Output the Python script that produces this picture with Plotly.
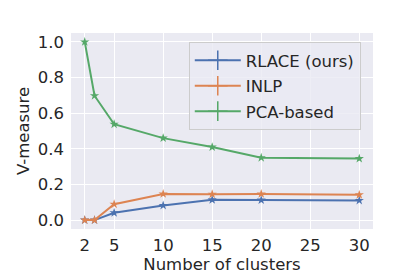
import plotly.graph_objects as go

clusters = [2, 3, 5, 10, 15, 20, 30]
rlace = [0.0, 0.0, 0.041, 0.082, 0.114, 0.112, 0.110]
inlp = [0.0, 0.0, 0.089, 0.147, 0.145, 0.147, 0.142]
pca = [1.0, 0.698, 0.538, 0.460, 0.410, 0.350, 0.345]

names = ["RLACE (ours)", "INLP", "PCA-based"]
colors = ["#4C72B0", "#DD8452", "#55A868"]
series = [rlace, inlp, pca]

x_ticks = [2, 5, 10, 15, 20, 25, 30]
y_ticks = [0.0, 0.2, 0.4, 0.6, 0.8, 1.0]

fig = go.Figure()
for name, col, vals in zip(names, colors, series):
    fig.add_trace(go.Scatter(
        x=clusters, y=vals, mode="lines+markers", name=name, showlegend=False,
        line=dict(color=col, width=2),
        marker=dict(symbol="star", size=7, color=col),
    ))
for i, (name, col) in enumerate(zip(names, colors)):
    fig.add_trace(go.Scatter(
        x=[None], y=[None], mode="lines+markers", name=name, legendgroup=str(i),
        line=dict(color=col, width=2),
        marker=dict(symbol="cross-thin", size=14, color=col, line=dict(color=col, width=1.5)),
    ))

font = dict(family="DejaVu Sans", size=16.5, color="#262626")
fig.update_layout(
    width=407, height=269,
    margin=dict(l=63, r=42, t=25, b=48),
    paper_bgcolor="white", plot_bgcolor="#EAEAF2",
    font=font,
    xaxis=dict(range=[0.6, 31.4], tickvals=x_ticks, ticktext=[str(t) for t in x_ticks],
               showgrid=True, gridcolor="white", gridwidth=1, zeroline=False,
               title=dict(text="Number of clusters", font=font, standoff=4),
               ticks="", showline=False, tickfont=font, ticklabelstandoff=4,
               automargin=False),
    yaxis=dict(range=[-0.05, 1.05], tickvals=y_ticks, ticktext=[f"{t:.1f}" for t in y_ticks],
               showgrid=True, gridcolor="white", gridwidth=1, zeroline=False,
               title=dict(text="V-measure", font=font, standoff=3),
               ticks="", showline=False, tickfont=font, ticklabelstandoff=6),
    legend=dict(x=0.39, y=0.954, xanchor="left", yanchor="top",
                bgcolor="rgba(234,234,242,0.8)", bordercolor="#CCCCCC", borderwidth=1,
                font=font, tracegroupgap=1, itemwidth=46),
)

fig.write_html("out.html")
